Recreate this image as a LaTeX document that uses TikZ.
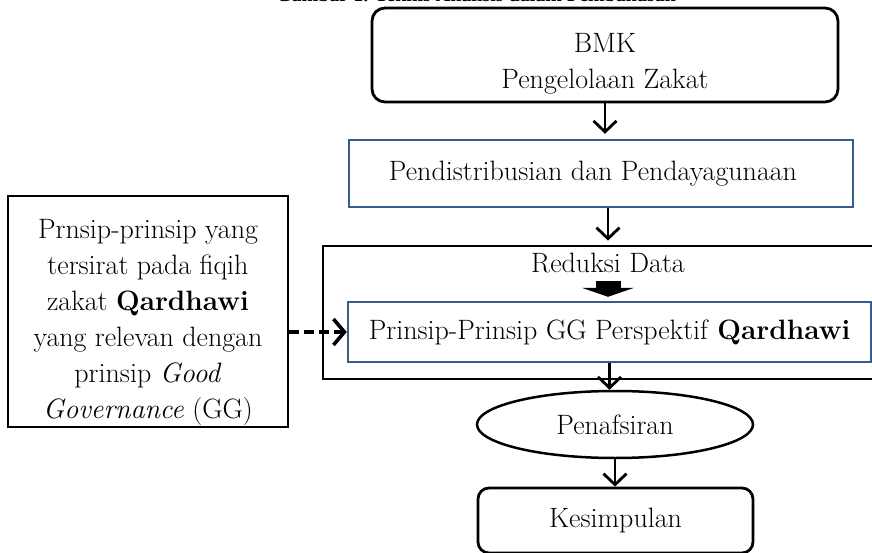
\documentclass[tikz,border=0pt]{standalone}
\usepackage{fontspec}
\newfontfamily\captionfont{Liberation Serif}
\usepackage{xcolor}
\usepackage{tikz}
\usetikzlibrary{shapes.geometric, arrows.meta, positioning, calc}
\definecolor{boxblue}{RGB}{56, 93, 138}
\newcommand{\bodysize}{\fontsize{28}{36}\selectfont}
\tikzstyle{roundbox} = [
    rectangle,
    rounded corners=13pt,
    draw=black,
    line width=2.8pt,
    align=center,
    inner sep=0pt,
    font=\bodysize
]
\tikzstyle{bluebox} = [
    rectangle,
    draw=boxblue,
    line width=2.4pt,
    align=center,
    inner sep=0pt,
    font=\bodysize
]
\tikzstyle{plainbox} = [
    rectangle,
    draw=black,
    line width=2.8pt,
    align=center,
    inner sep=0pt,
    font=\bodysize
]
\tikzstyle{oval} = [
    ellipse,
    draw=black,
    line width=2.5pt,
    inner sep=0pt,
    font=\bodysize
]
\tikzstyle{arrow} = [
    line width=2.8pt,
    -{Straight Barb[length=11pt, width=23pt, line width=2.8pt]}
]
\tikzstyle{dasharrow} = [
    line width=3.6pt,
    dash pattern=on 10pt off 5pt,
    -{Straight Barb[length=11pt, width=26pt, line width=3.6pt]}
]
\tikzstyle{fatarrow} = [
    line width=25pt,
    -{Triangle[length=9pt, width=52pt]}
]

\begin{document}
\begin{tikzpicture}[x=1pt, y=-1pt]
        \clip (0, 0) rectangle (872, 553);
        % Caption (cut at the top)
        \node[anchor=base, font=\captionfont\fontsize{20}{24}\selectfont\bfseries] (caption) at (476, 2) {Gambar 1. Teknis Analisis dalam Pembahasan};

        % Nodes
        \node[roundbox, minimum width=466pt, minimum height=94pt] (bmk) at (605, 55) {\rule{0pt}{37pt}BMK\\Pengelolaan Zakat};
        \node[bluebox, minimum width=504pt, minimum height=67pt] (dist) at (601, 173.5) {\hspace*{-16pt}Pendistribusian dan Pendayagunaan};
        \node[plainbox, minimum width=562pt, minimum height=133pt] (reduksi) at (604, 312.5) {};
        \node[font=\bodysize, inner sep=0pt] (reduksilbl) at (608, 263) {Reduksi Data};
        \node[bluebox, minimum width=523pt, minimum height=60pt] (prinsip) at (609.5, 332) {Prinsip-Prinsip GG Perspektif \textbf{Qardhawi}};
        \node[plainbox, minimum width=280pt, minimum height=231pt] (fiqih) at (148, 311.5) {\rule{0pt}{40pt}Prnsip-prinsip yang\\tersirat pada fiqih\\zakat \textbf{Qardhawi}\\yang relevan dengan\\prinsip \textit{Good}\\\textit{Governance} (GG)};
        \node[oval, minimum width=276pt, minimum height=67pt] (tafsir) at (615, 424.5) {Penafsiran};
        \node[roundbox, rounded corners=11pt, minimum width=275pt, minimum height=65pt] (simpul) at (615.5, 520.5) {Kesimpulan};

        % Flow arrows
        \draw[arrow, shorten >=5pt] (bmk.south) -- (bmk.south |- dist.north);
        \draw[arrow, shorten >=4pt] ([xshift=7pt]dist.south) -- ([xshift=7pt]dist.south |- reduksi.north);
        \draw[fatarrow, shorten >=4pt] ([yshift=-8pt]reduksilbl.south) -- (reduksilbl.south |- prinsip.north);
        \draw[arrow] (prinsip.south) -- (prinsip.south |- tafsir.north);
        \draw[arrow] (tafsir.south) -- (tafsir.south |- simpul.north);

        % Dashed input
        \draw[dasharrow] (fiqih.east |- prinsip.west) -- (prinsip.west);
    \end{tikzpicture}
\end{document}
